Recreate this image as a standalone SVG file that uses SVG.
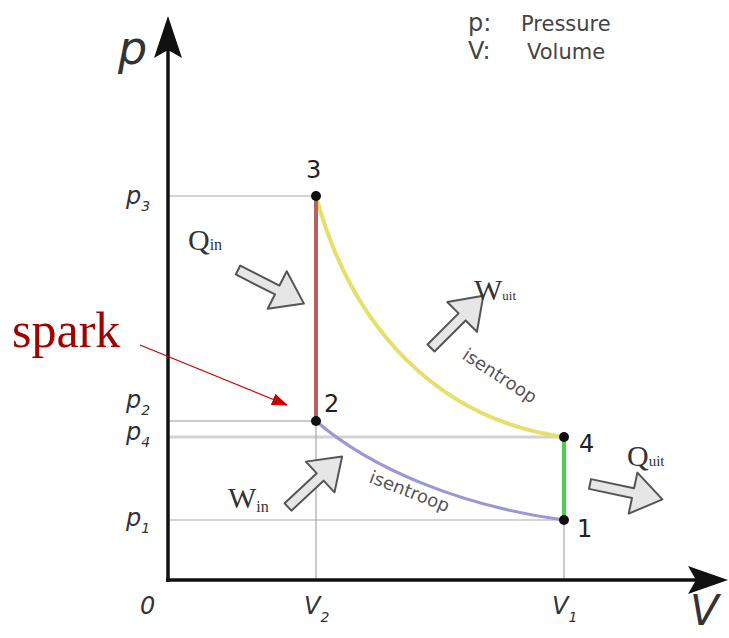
<svg xmlns="http://www.w3.org/2000/svg" width="729" height="638" viewBox="0 0 729 638">
<style>
.grid{stroke:#c4c4c4;stroke-width:1.6;fill:none}
.vgrid{stroke:#a8a8a8;stroke-width:1.2;fill:none}
.axis{stroke:#111;stroke-width:3.5;fill:none}
.lbl{font-family:"DejaVu Sans",sans-serif;font-style:italic;fill:#333}
.num{font-family:"DejaVu Sans",sans-serif;font-size:24px;fill:#222}
.leg{font-family:"DejaVu Sans",sans-serif;fill:#444}
.ser{font-family:"Liberation Serif",serif;fill:#333}
.isen{font-family:"DejaVu Sans",sans-serif;font-size:18px;fill:#555}
.harrow{fill:#e6e6e6;stroke:#555;stroke-width:2;stroke-linejoin:round}
.dot{fill:#111}
</style>
<defs>
<polygon id="blk" points="0,-5 44,-5 44,-21 74,0 44,21 44,5 0,5"/>
<marker id="redhead" markerWidth="16" markerHeight="12" refX="15" refY="6" orient="auto" markerUnits="userSpaceOnUse">
<path d="M0,0 L16,6 L0,12 Z" fill="#cc0000"/>
</marker>
</defs>
<rect width="729" height="638" fill="#fff"/>

<g id="gridlines">
<line class="grid" x1="168" y1="196" x2="316" y2="196"/>
<line class="grid" x1="168" y1="421" x2="316" y2="421" style="stroke:#b8b8b8"/>
<line class="grid" x1="168" y1="437" x2="564" y2="437" style="stroke-width:3;stroke:#d2d2d2"/>
<line class="grid" x1="168" y1="520" x2="564" y2="520"/>
<line class="vgrid" x1="316" y1="421" x2="316" y2="580"/>
<line class="vgrid" x1="564" y1="520" x2="564" y2="580"/>
</g>

<g id="axes">
<line class="axis" x1="168" y1="582" x2="168" y2="40"/>
<path d="M168,16 L182,58 L168,50 L154,58 Z" fill="#111"/>
<line class="axis" x1="166" y1="580" x2="705" y2="580"/>
<path d="M728,580 L688,594 L696,580 L688,566 Z" fill="#111"/>
</g>

<g id="connectors">
<path id="c34" d="M316,196 C352,330 440,420 564,437" fill="none" stroke="#e6df6a" stroke-width="4"/>
<path id="c21" d="M316,421 C370,468 460,506 564,520" fill="none" stroke="#9a96d8" stroke-width="3"/>
<line id="c32" x1="316" y1="196" x2="316" y2="421" stroke="#b86060" stroke-width="4"/>
<line id="c41" x1="564" y1="437" x2="564" y2="520" stroke="#4ccf4c" stroke-width="4"/>
<line id="spark-arrow" x1="140" y1="345" x2="287" y2="405" stroke="#cc0000" stroke-width="1.2" marker-end="url(#redhead)"/>
</g>

<g id="node3"><circle class="dot" cx="316" cy="196" r="5"/><text class="num" x="306" y="178">3</text></g>
<g id="node2"><circle class="dot" cx="316" cy="421" r="5"/><text class="num" x="324" y="412">2</text></g>
<g id="node4"><circle class="dot" cx="564" cy="437" r="5"/><text class="num" x="579" y="452">4</text></g>
<g id="node1"><circle class="dot" cx="564" cy="520" r="5"/><text class="num" x="577" y="537">1</text></g>

<g id="axis-labels">
<text class="lbl" x="118" y="64" font-size="46">p</text>
<text class="lbl" x="690" y="625" font-size="42">V</text>
<text class="lbl" x="140" y="614" font-size="24">0</text>
<text class="lbl" x="126" y="204" font-size="24">p<tspan font-size="14" dy="7">3</tspan></text>
<text class="lbl" x="126" y="408" font-size="24">p<tspan font-size="14" dy="7">2</tspan></text>
<text class="lbl" x="126" y="440" font-size="24">p<tspan font-size="14" dy="7">4</tspan></text>
<text class="lbl" x="126" y="526" font-size="24">p<tspan font-size="14" dy="7">1</tspan></text>
<text class="lbl" x="304" y="614" font-size="24">V<tspan font-size="14" dy="8">2</tspan></text>
<text class="lbl" x="552" y="614" font-size="24">V<tspan font-size="14" dy="8">1</tspan></text>
</g>

<g id="legend">
<text class="leg" x="468" y="31" font-size="24">p:</text>
<text class="leg" x="521" y="31" font-size="21">Pressure</text>
<text class="leg" x="468" y="59" font-size="24">V:</text>
<text class="leg" x="527" y="59" font-size="21">Volume</text>
</g>

<g id="isentrope-labels">
<text class="isen" transform="translate(461,358) rotate(33)">isentroop</text>
<text class="isen" transform="translate(368,482) rotate(21)">isentroop</text>
</g>

<g id="qin">
<use href="#blk" class="harrow" transform="translate(238,270) rotate(27)"/>
<text class="ser" x="188" y="250" font-size="30">Q<tspan font-size="16">in</tspan></text>
</g>
<g id="wuit">
<use href="#blk" class="harrow" transform="translate(431,348) rotate(-45)"/>
<text class="ser" x="474" y="300" font-size="30">W<tspan font-size="13">uit</tspan></text>
</g>
<g id="win">
<use href="#blk" class="harrow" transform="translate(288,507) rotate(-43)"/>
<text class="ser" x="228" y="508" font-size="30">W<tspan font-size="16" dy="4">in</tspan></text>
</g>
<g id="quit">
<use href="#blk" class="harrow" transform="translate(590,484) rotate(12)"/>
<text class="ser" x="627" y="466" font-size="30">Q<tspan font-size="15">uit</tspan></text>
</g>

<g id="spark">
<text x="12" y="347" font-family="Liberation Serif, serif" font-size="50" fill="#a30000">spark</text>
</g>
</svg>
